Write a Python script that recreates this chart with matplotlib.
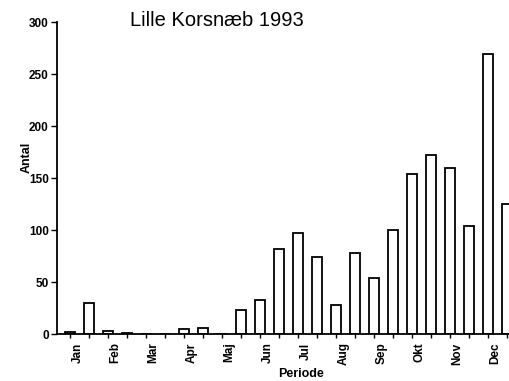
import numpy as np
import matplotlib
matplotlib.use('Agg')
import matplotlib.pyplot as plt

plt.rcParams['font.family'] = ['Liberation Sans', 'DejaVu Sans']

months = ['Jan', 'Feb', 'Mar', 'Apr', 'Maj', 'Jun', 'Jul', 'Aug', 'Sep', 'Okt', 'Nov', 'Dec']
# two counts per month (first and second half)
first_half = [2, 3, 0, 5, 0, 33, 97, 28, 54, 154, 160, 269]
second_half = [30, 1, 0, 6, 23, 82, 74, 78, 100, 172, 104, 125]

counts = []
for a, b in zip(first_half, second_half):
    counts += [a, b]
pos = np.arange(len(counts))

fig = plt.figure(figsize=(5.09, 3.81), dpi=100)
ax = fig.add_axes([0.112, 0.123, 0.888, 0.819])

ax.bar(pos, counts, width=0.53, color='white', edgecolor='black', linewidth=1.3, zorder=2)

ax.set_xlim(-0.684, 23.1)
ax.set_ylim(0, 300)
ax.set_yticks(range(0, 301, 50))
ax.set_yticklabels([str(v) for v in range(0, 301, 50)], fontsize=8.5, fontweight='bold')

# small ticks under every bar, month names in the middle of each month
ax.set_xticks(pos, minor=True)
ax.set_xticks(np.arange(len(months)) * 2 + 0.4)
ax.set_xticklabels(months, rotation=90, fontsize=8.5, fontweight='bold')
ax.tick_params(axis='x', which='major', length=0, pad=6)
ax.tick_params(axis='x', which='minor', length=3, width=1, direction='out')
ax.tick_params(axis='y', length=4, width=1, direction='out', pad=2)

for s in ['top', 'right']:
    ax.spines[s].set_visible(False)
ax.spines['left'].set_linewidth(1.3)
ax.spines['bottom'].set_linewidth(1.3)

ax.set_ylabel('Antal', fontsize=9, fontweight='bold')
ax.yaxis.set_label_coords(-0.053, 0.565)
ax.set_xlabel('Periode', fontsize=9, fontweight='bold')
ax.xaxis.set_label_coords(0.54, -0.11)
fig.text(0.427, 0.945, 'Lille Korsnæb 1993', fontsize=14.5, ha='center', va='center')

plt.savefig('out.png', dpi=100)
